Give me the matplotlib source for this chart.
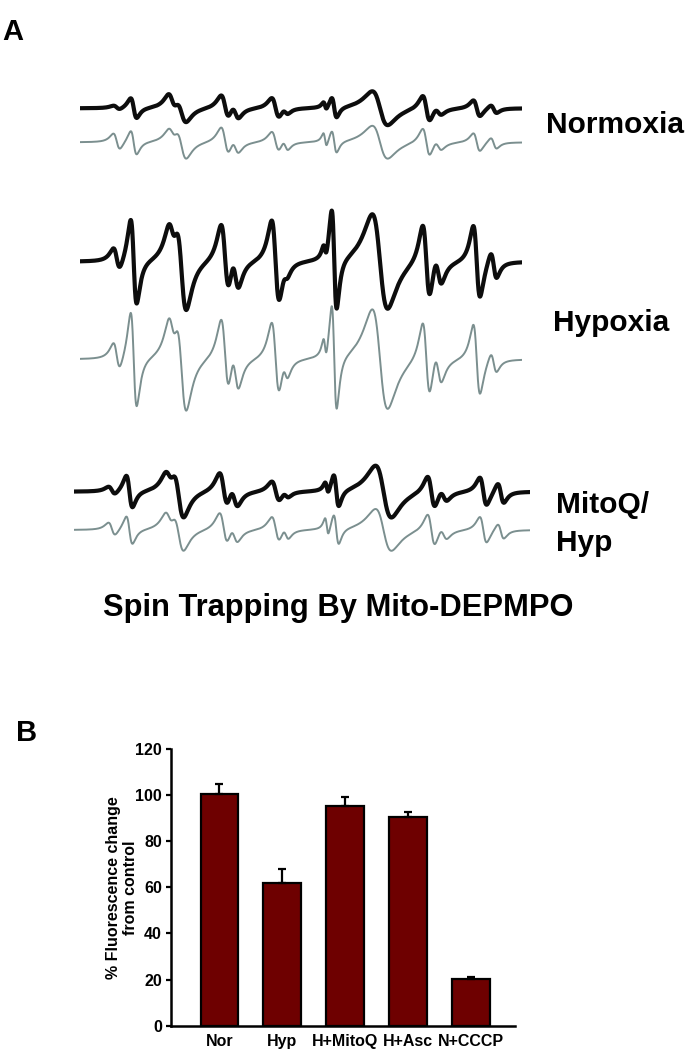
import numpy as np
import matplotlib
matplotlib.use("Agg")
import matplotlib.pyplot as plt

plt.rcParams['font.family'] = ['Liberation Sans', 'DejaVu Sans']
plt.rcParams['font.weight'] = 'bold'

W, H = 686, 1050

# ---- panel A: EPR line parameters (field in G over a 100 G sweep) ----
line_center = [8.30, 12.15, 20.81, 22.96, 32.81, 35.18, 44.23, 46.49,
               55.43, 57.51, 67.87, 78.35, 81.06, 89.75, 93.60]
line_width = [1.52, 1.36, 1.81, 2.26, 1.81, 1.58, 1.72, 1.27,
              0.77, 1.13, 3.50, 1.65, 1.58, 1.52, 1.36]

# peak-to-peak amplitudes (arbitrary units)
norm_exp = [4, 20, 18, 24, 24, 14, 20, 6, 8, 20, 34, 26, 8, 16, 8]
norm_sim = [16, 24, 14, 30, 28, 14, 20, 10, 14, 22, 33, 28, 10, 18, 11]
hyp_exp = [22, 85, 35, 90, 70, 35, 82, 10, 15, 100, 95, 75, 30, 72, 27]
hyp_sim = [27, 95, 40, 95, 75, 40, 72, 18, 22, 105, 100, 75, 32, 70, 20]
mitoq_exp = [8, 32, 18, 48, 35, 20, 20, 6, 12, 32, 52, 32, 12, 28, 20]
mitoq_sim = [13, 28, 18, 38, 32, 16, 25, 11, 18, 30, 42, 32, 12, 26, 15]

# ---- panel B: fluorescence ----
groups = ['Nor', 'Hyp', 'H+MitoQ', 'H+Asc', 'N+CCCP']
fluor = [100.4, 61.7, 95.4, 90.3, 20.4]
fluor_err = [4.5, 6.4, 3.6, 2.2, 0.7]

field = np.linspace(0, 100, 3000)


def spectrum(amps):
    y = np.zeros_like(field)
    for c, dpp, a in zip(line_center, line_width, amps):
        w = dpp * np.sqrt(3) / 2
        u = (field - c) / w
        y += -a / (2 * 0.32476) * u / (1 + u ** 2) ** 2
    return y


def px_axes(x0, y0, x1, y1):
    ax = fig.add_axes([x0 / W, 1 - y1 / H, (x1 - x0) / W, (y1 - y0) / H])
    return ax


fig = plt.figure(figsize=(W / 100, H / 100), dpi=100)

black = '#0d0d0d'
grey = '#7b8f8f'

pairs = [
    # (x0, x1, top, bottom, black baseline, grey baseline, exp, sim)
    (80, 522, 60, 180, 108.3, 142.3, norm_exp, norm_sim),
    (80, 522, 185, 440, 261.7, 359.3, hyp_exp, hyp_sim),
    (74, 530, 445, 580, 491.7, 530.0, mitoq_exp, mitoq_sim),
]
for x0, x1, top, bot, yb, yg, exp, sim in pairs:
    ax = px_axes(x0, top, x1, bot)
    ax.plot(field, spectrum(exp) - yb, color=black, lw=3.0)
    ax.plot(field, spectrum(sim) - yg, color=grey, lw=1.4)
    ax.set_xlim(0, 100)
    ax.set_ylim(-bot, -top)
    ax.axis('off')

fs_big = 21.5
fig.text(2 / W, 1 - 40 / H, 'A', fontsize=21, fontweight='bold', va='baseline')
fig.text(546 / W, 1 - 133 / H, 'Normoxia', fontsize=fs_big, fontweight='bold', va='baseline')
fig.text(553 / W, 1 - 331 / H, 'Hypoxia', fontsize=fs_big, fontweight='bold', va='baseline')
fig.text(556 / W, 1 - 513 / H, 'MitoQ/', fontsize=fs_big, fontweight='bold', va='baseline')
fig.text(556 / W, 1 - 551 / H, 'Hyp', fontsize=fs_big, fontweight='bold', va='baseline')
fig.text(338 / W, 1 - 616 / H, 'Spin Trapping By Mito-DEPMPO', fontsize=22.2,
         fontweight='bold', ha='center', va='baseline')
fig.text(16 / W, 1 - 741 / H, 'B', fontsize=21, fontweight='bold', va='baseline')

# ---- bar chart ----
ax = px_axes(171, 749, 515, 1025.7)
x = np.arange(len(groups))
ax.bar(x, fluor, width=0.6, color='#6e0000', edgecolor='black', linewidth=1.6, zorder=2)
ax.errorbar(x, fluor, yerr=[np.zeros(len(fluor)), fluor_err], fmt='none',
            ecolor='black', elinewidth=1.6, capsize=3, capthick=1.6, zorder=3)
ax.set_xlim(-0.77, 4.70)
ax.set_ylim(0, 120)
ax.set_yticks(np.arange(0, 121, 20))
ax.set_xticks(x)
ax.set_xticklabels(groups, fontsize=11.5, fontweight='bold')
ax.tick_params(axis='y', labelsize=11.5, length=3.5, width=1.6, pad=3)
ax.tick_params(axis='x', length=0, pad=6)
for lab in ax.get_yticklabels():
    lab.set_fontweight('bold')
for s in ['top', 'right']:
    ax.spines[s].set_visible(False)
for s in ['left', 'bottom']:
    ax.spines[s].set_linewidth(1.8)
ax.set_ylabel('% Fluorescence change\nfrom control', fontsize=11.5, fontweight='bold')
ax.yaxis.set_label_coords(-0.095, 0.5)

fig.savefig('out.png', dpi=100)
